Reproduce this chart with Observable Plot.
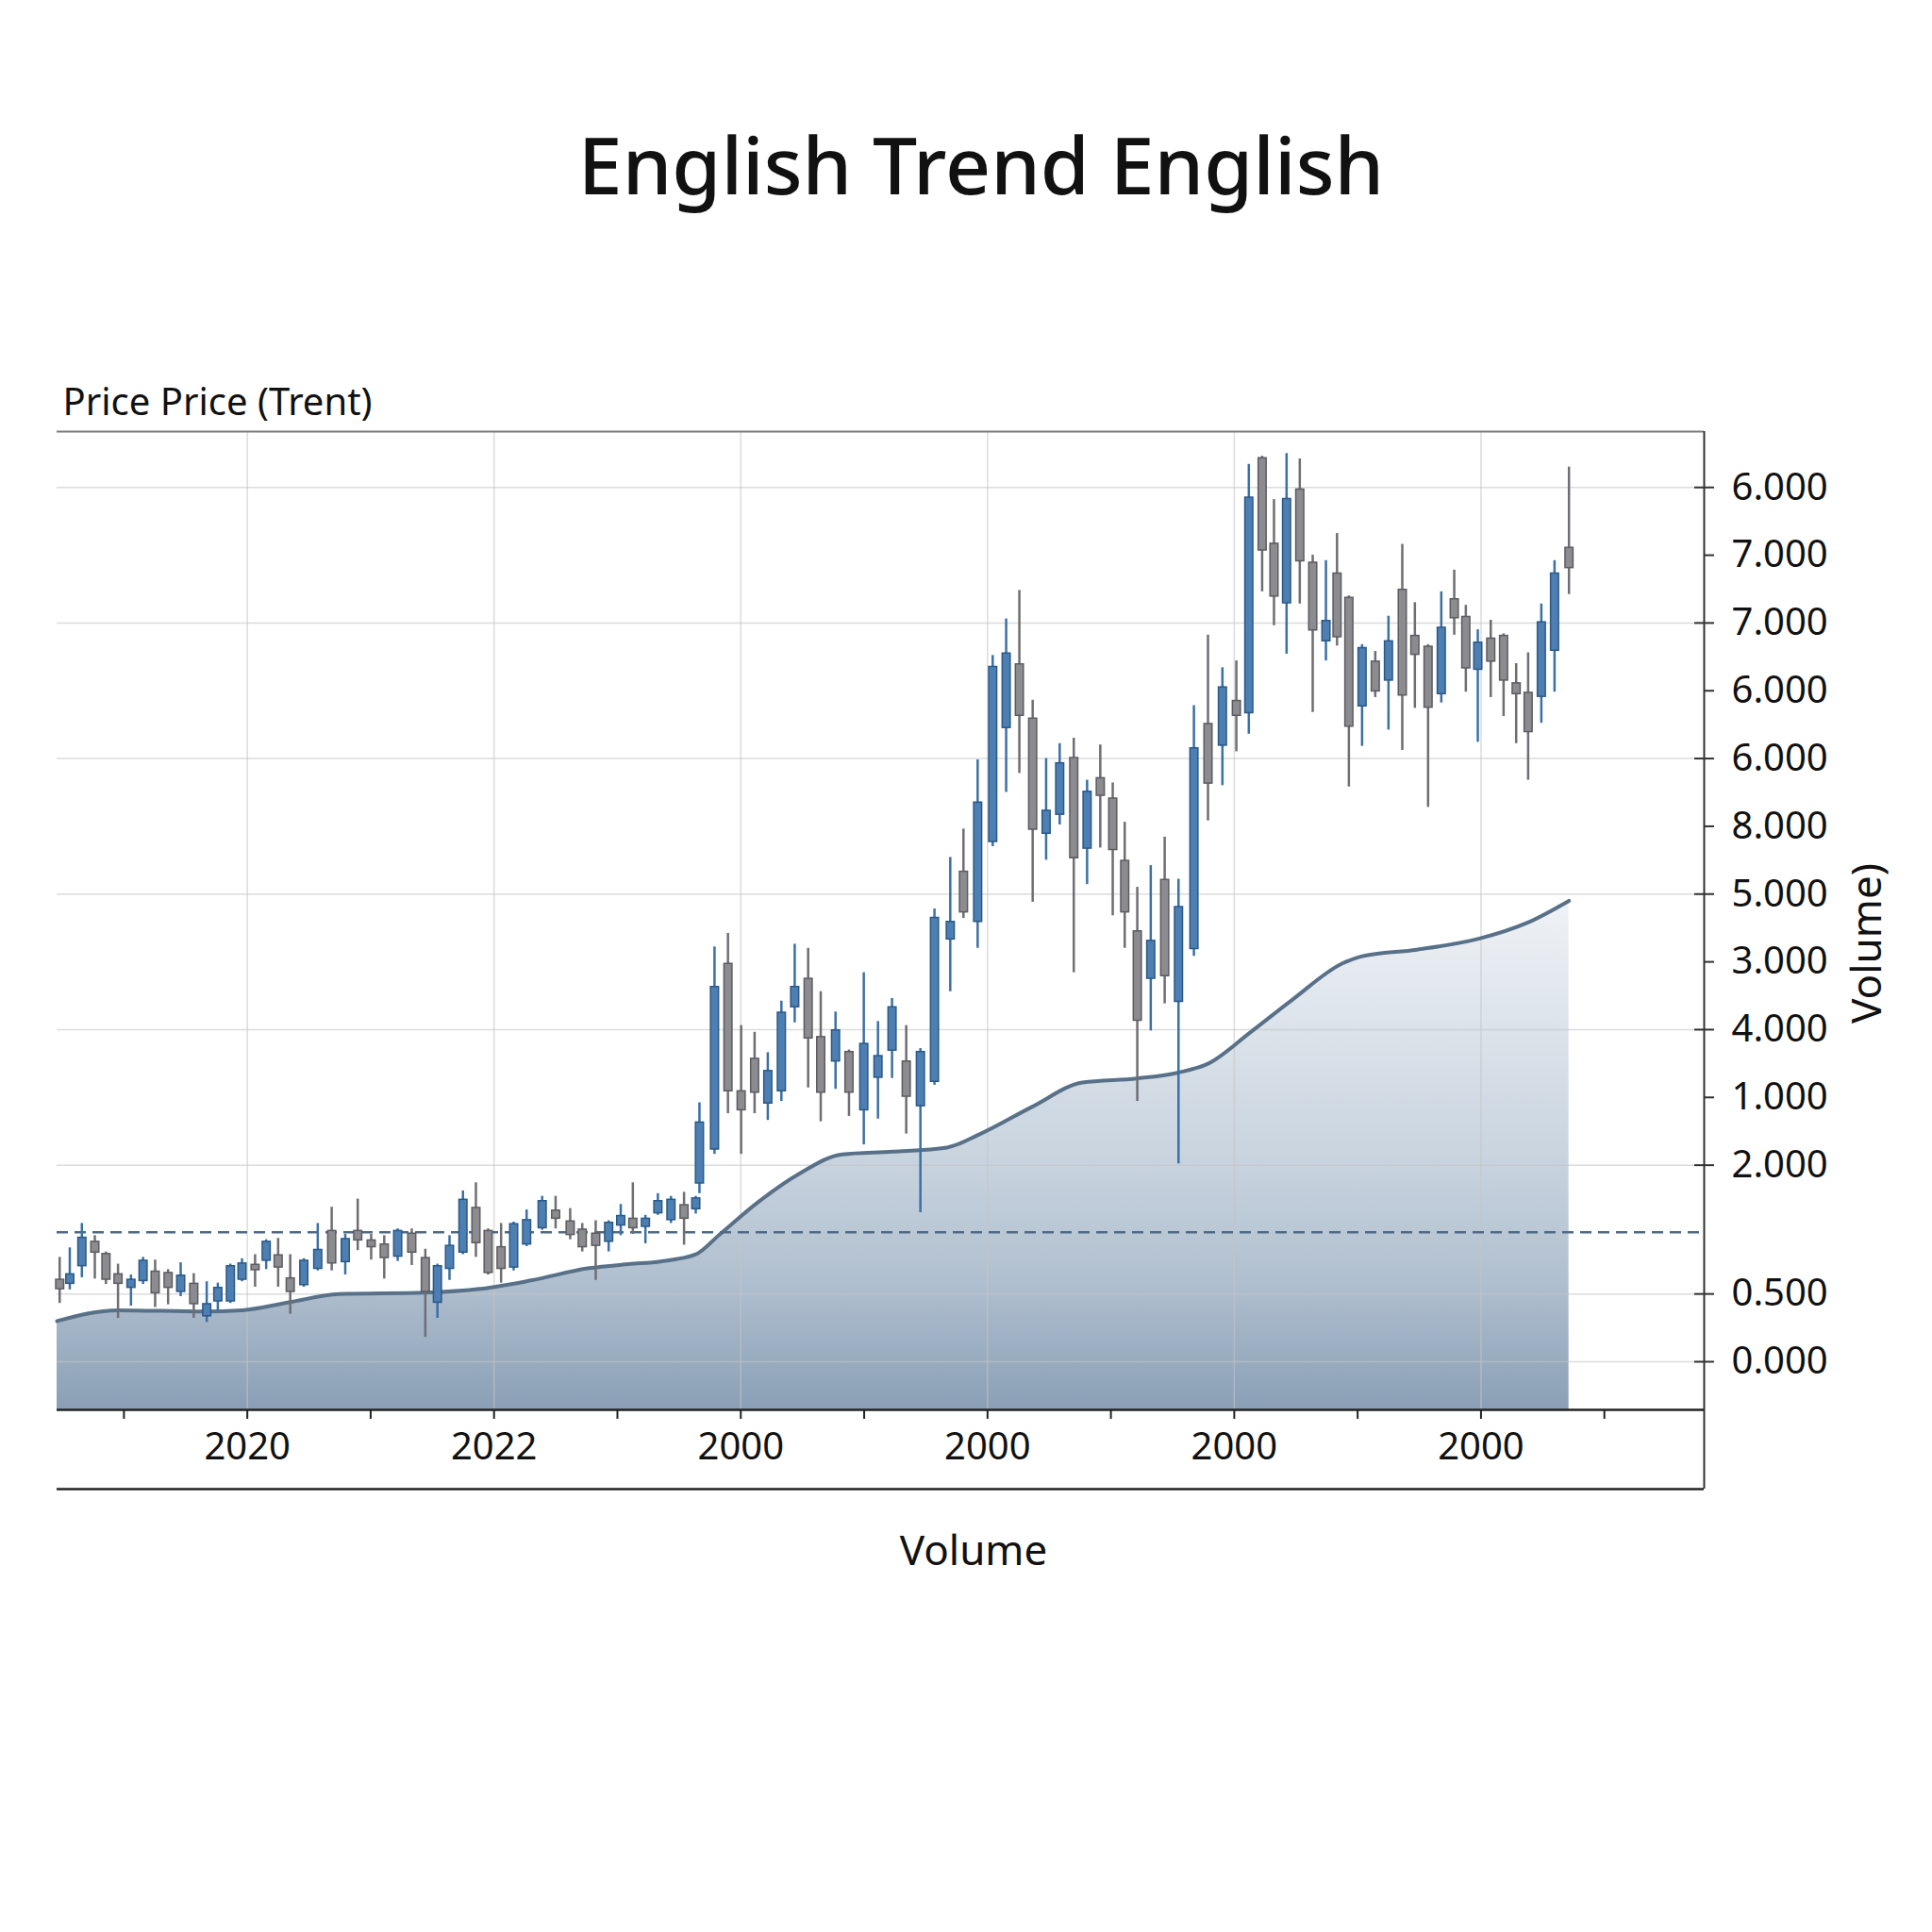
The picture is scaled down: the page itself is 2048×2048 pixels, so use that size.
<!DOCTYPE html>
<html>
<head>
<meta charset="utf-8">
<script src="https://cdn.jsdelivr.net/npm/d3@7"></script>
<script src="https://cdn.jsdelivr.net/npm/@observablehq/plot@0.6"></script>
<style>
html, body { margin: 0; padding: 0; background: #fff; overflow: hidden; }
#wrap { position: relative; width: 2048px; height: 2048px; font-family: "Noto Sans", sans-serif; color: #111; }
#chart { position: absolute; top: 0; left: 0; }
#chart svg { max-width: none; }
#title { position: absolute; top: 132px; left: 16px; width: 2048px; text-align: center; font-size: 84px; line-height: 1; font-weight: 500; }
#caption { position: absolute; top: 1620px; left: 8px; width: 2048px; text-align: center; font-size: 44px; line-height: 1; }
</style>
</head>
<body>
<div id="wrap">
  <div id="chart"></div>
  <div id="title">English Trend English</div>
  <div id="caption">Volume</div>
</div>
<script>
// ---------- data ----------
const times = [4.79,5.61,6.59,7.64,8.54,9.52,10.57,11.55,12.53,13.58,14.60,15.66,16.71,17.61,18.63,19.57,20.63,21.53,22.50,23.48,
  24.58,25.71,26.84,27.94,28.95,30.04,31.10,32.19,33.33,34.43,35.41,36.39,37.48,38.53,39.52,40.57,41.59,42.64,43.90,44.99,
  46.17,47.15,48.24,49.29,50.27,51.25,52.27,53.28,54.34,55.40,56.35,56.65,57.87,58.96,60.03,61.12,62.19,63.29,64.37,65.46,
  66.48,67.68,68.77,69.97,71.12,72.26,73.41,74.56,75.70,76.98,78.05,79.20,80.42,81.51,82.58,83.66,84.75,85.85,86.99,88.07,
  89.14,90.15,91.12,92.14,93.23,94.36,95.48,96.73,97.87,99.04,100.17,101.18,102.26,103.22,104.24,105.31,106.36,107.43,108.33,109.29,
  110.36,111.43,112.50,113.62,114.64,115.71,116.78,117.83,118.77,119.74,120.79,121.83,122.85,123.82,124.89,125.96,127.13];
const opens = [0.61,0.57,0.70,0.89,0.80,0.65,0.54,0.59,0.67,0.66,0.51,0.58,0.33,0.44,0.44,0.60,0.72,0.74,0.79,0.62,
  0.56,0.68,0.97,0.73,0.97,0.90,0.87,0.77,0.95,0.77,0.43,0.68,0.80,1.14,0.97,0.85,0.69,0.86,0.98,1.12,
  1.04,0.98,0.95,0.88,1.00,1.06,0.99,1.09,1.04,1.16,1.12,1.31,1.56,2.94,2.00,2.24,1.90,1.99,2.61,2.83,
  2.40,2.21,2.29,1.85,2.09,2.29,2.22,1.88,2.06,3.11,3.62,3.24,3.83,4.67,5.15,4.75,3.89,4.03,4.46,3.78,
  4.31,4.16,3.70,3.18,2.82,3.56,2.65,3.04,4.71,4.54,4.88,4.78,6.67,6.04,5.59,6.44,5.90,5.31,5.82,5.64,
  4.83,5.17,5.02,5.70,5.36,5.28,4.92,5.63,5.50,5.10,5.34,5.36,5.01,4.94,4.90,5.24,6.01];
const highs = [0.77,0.84,1.02,0.93,0.81,0.72,0.64,0.77,0.75,0.68,0.73,0.65,0.59,0.58,0.72,0.76,0.79,0.90,0.91,0.79,
  0.76,1.02,1.14,0.94,1.20,0.94,0.93,0.98,0.98,0.83,0.72,0.93,1.26,1.32,0.98,1.02,1.03,1.12,1.22,1.22,
  1.13,1.02,1.04,1.04,1.16,1.32,1.08,1.24,1.22,1.25,1.22,1.91,3.06,3.16,2.48,2.43,2.28,2.66,3.08,3.05,
  2.73,2.58,2.30,2.87,2.51,2.68,2.48,2.31,3.34,3.72,3.93,4.44,5.21,5.48,5.69,4.88,4.45,4.56,4.60,4.29,
  4.55,4.27,3.98,3.50,3.66,3.87,3.56,4.84,5.36,5.12,5.17,6.62,6.68,6.36,6.70,6.66,5.95,5.91,6.11,5.65,
  5.29,5.24,5.50,6.03,5.60,5.29,5.68,5.84,5.58,5.40,5.47,5.37,5.15,5.23,5.59,5.91,6.60];
const lows = [0.43,0.53,0.62,0.61,0.57,0.32,0.41,0.57,0.40,0.42,0.48,0.32,0.29,0.37,0.43,0.59,0.55,0.68,0.55,0.35,
  0.55,0.67,0.67,0.64,0.82,0.75,0.61,0.74,0.71,0.18,0.32,0.60,0.79,0.77,0.64,0.58,0.67,0.85,0.97,0.98,
  0.90,0.81,0.60,0.81,0.93,0.94,0.87,1.08,1.02,0.86,1.09,1.24,1.53,1.83,1.53,1.83,1.78,1.92,2.50,2.02,
  1.77,2.01,1.81,1.60,1.79,2.09,1.68,1.10,2.04,2.73,3.27,3.05,3.80,4.20,4.34,3.39,3.70,3.96,2.87,3.52,
  3.79,3.29,3.05,1.92,2.44,2.64,1.46,2.99,3.99,4.25,4.50,4.63,5.68,5.43,5.22,5.59,4.79,5.17,5.28,4.24,
  4.54,4.90,4.66,4.51,4.82,4.09,4.86,5.36,4.94,4.57,4.90,4.76,4.56,4.29,4.71,4.94,5.66];
const closes = [0.53,0.65,0.92,0.80,0.60,0.57,0.61,0.75,0.50,0.54,0.64,0.42,0.43,0.55,0.71,0.73,0.67,0.89,0.69,0.51,
  0.75,0.83,0.72,0.91,0.89,0.84,0.76,0.97,0.80,0.51,0.71,0.86,1.20,0.87,0.65,0.68,1.02,1.05,1.19,1.05,
  0.93,0.84,0.85,1.03,1.08,0.98,1.06,1.19,1.20,1.05,1.21,1.77,2.77,1.99,1.85,1.98,2.15,2.58,2.77,2.38,
  1.98,2.45,1.98,2.35,2.26,2.62,1.95,2.29,3.28,3.25,3.31,4.13,5.13,5.23,4.76,3.92,4.07,4.42,3.71,4.21,
  4.17,3.77,3.31,2.51,3.11,2.84,3.36,4.53,4.26,4.98,4.76,6.38,5.98,5.64,6.37,5.90,5.39,5.47,5.34,4.68,
  5.27,4.94,5.32,4.91,5.21,4.82,5.42,5.48,5.11,5.31,5.16,5.02,4.92,4.64,5.46,5.82,5.85];

const trendT = [4.58,9.5,16.5,19.6,23.5,27.4,34.4,39.1,43.0,47.7,50.9,53.5,56.3,58.3,61.3,64.8,68.2,72.3,76.7,79.4,
  83.6,87.7,92.1,95.3,97.9,101.3,104.7,108.8,110.3,114.8,119.8,123.8,127.13];
const trendV = [0.30,0.38,0.37,0.38,0.44,0.50,0.51,0.54,0.60,0.69,0.72,0.74,0.79,0.94,1.17,1.39,1.53,1.55,1.58,1.68,
  1.88,2.06,2.09,2.13,2.20,2.43,2.67,2.94,2.99,3.04,3.12,3.24,3.40];

const refLevel = 0.955;

const xDomain = [4.58, 138.09];
const yDomain = [-0.355, 6.862];
const xTicks = [10, 20, 30, 40, 50, 60, 70, 80, 90, 100, 110, 120, 130];
const xTickLabels = ["", "2020", "", "2022", "", "2000", "", "2000", "", "2000", "", "2000", ""];
const xGrid = [20, 40, 60, 80, 100, 120];
const yTicks = [6.45, 5.95, 5.45, 4.95, 4.45, 3.95, 3.45, 2.95, 2.45, 1.95, 1.45, 0.5, 0];
const yTickLabels = ["6.000", "7.000", "7.000", "6.000", "6.000", "8.000", "5.000", "3.000", "4.000", "1.000", "2.000", "0.500", "0.000"];
const yMajor = [6.45, 5.45, 4.45, 3.45, 2.45, 1.45, 0.5, 0];

// ---------- build ----------
const candles = times.map((t, i) => ({t, o: opens[i], h: highs[i], l: lows[i], c: closes[i], up: closes[i] >= opens[i]}));
const trend = trendT.map((t, i) => ({t, v: trendV[i]}));
const xLabelOf = new Map(xTicks.map((v, i) => [v, xTickLabels[i]]));
const yLabelOf = new Map(yTicks.map((v, i) => [v, yTickLabels[i]]));

const C = {
  blueFill: "#4d7fb2", blueEdge: "#2b5987", blueWick: "#3a70a5",
  grayFill: "#8b8b90", grayEdge: "#5c5c61", grayWick: "#6e6e73"
};

const defs = () => {
  const d = d3.create("svg:defs");
  const g = d.append("linearGradient").attr("id", "volFill")
    .attr("x1", 0).attr("y1", 0).attr("x2", 0).attr("y2", 1);
  [[0, "#eff2f6"], [0.5, "#c9d4df"], [0.75, "#b0bfcf"], [1, "#8a9fb6"]]
    .forEach(([o, c]) => g.append("stop").attr("offset", o).attr("stop-color", c));
  return d.node();
};

const chart = Plot.plot({
  width: 2048,
  height: 1600,
  marginTop: 457,
  marginBottom: 106,
  marginLeft: 60,
  marginRight: 242,
  x: {type: "linear", domain: xDomain},
  y: {type: "linear", domain: yDomain},
  style: {fontFamily: "Noto Sans", fontSize: "40px", color: "#111", background: "transparent"},
  marks: [
    defs,
    Plot.areaY(trend, {x: "t", y1: yDomain[0], y2: "v", curve: "monotone-x", fill: "url(#volFill)"}),
    Plot.gridX(xGrid, {stroke: "#c4c4c4", strokeOpacity: 0.6, strokeWidth: 1.5}),
    Plot.gridY(yMajor, {stroke: "#c4c4c4", strokeOpacity: 0.6, strokeWidth: 1.5}),
    Plot.lineY(trend, {x: "t", y: "v", curve: "monotone-x", stroke: "#587189", strokeWidth: 4}),
    Plot.ruleY([refLevel], {stroke: "#4e6a86", strokeWidth: 2.5, strokeDasharray: "12,7"}),
    Plot.ruleX(candles, {x: "t", y1: "l", y2: "h", stroke: d => d.up ? C.blueWick : C.grayWick, strokeWidth: 2.5}),
    Plot.ruleX(candles, {x: "t", y1: d => Math.max(d.o, d.c), y2: d => Math.min(d.o, d.c),
      stroke: d => d.up ? C.blueEdge : C.grayEdge, strokeWidth: 10}),
    Plot.ruleX(candles, {x: "t", y1: d => Math.max(d.o, d.c), y2: d => Math.min(d.o, d.c),
      stroke: d => d.up ? C.blueFill : C.grayFill, strokeWidth: 7, insetTop: 1.5, insetBottom: 1.5}),
    Plot.ruleY([yDomain[1]], {stroke: "#7a7a7a", strokeWidth: 2}),
    Plot.ruleX([xDomain[1]], {stroke: "#333", strokeWidth: 2, insetBottom: -84}),
    Plot.ruleY([yDomain[0]], {stroke: "#222", strokeWidth: 2.5}),
    Plot.ruleY([yDomain[0]], {stroke: "#222", strokeWidth: 2.5, dy: 84}),
    Plot.axisX({ticks: xTicks, tickFormat: d => xLabelOf.get(d) ?? "", tickSize: 10, tickPadding: 14,
      fontSize: 40, label: null, stroke: "#222", strokeWidth: 2}),
    Plot.axisY({anchor: "right", ticks: yTicks, tickFormat: d => yLabelOf.get(d) ?? "", tickSize: 10, tickPadding: 19,
      fontSize: 40, label: null, stroke: "#333", strokeWidth: 2}),
    Plot.axisY({anchor: "right", ticks: yMajor, tickFormat: () => "", tickSize: 11, dx: -11,
      label: null, stroke: "#333", strokeWidth: 2}),
    Plot.text(["Price Price (Trent)"], {frameAnchor: "top-left", textAnchor: "start", lineAnchor: "middle",
      dx: 6, dy: -30, fontSize: 40, fill: "#111"}),
    Plot.text(["Volume)"], {frameAnchor: "right", rotate: -90, textAnchor: "middle", lineAnchor: "middle",
      dx: 173, dy: 24, fontSize: 44, fill: "#111"})
  ]
});
document.getElementById("chart").appendChild(chart);
</script>
</body>
</html>
